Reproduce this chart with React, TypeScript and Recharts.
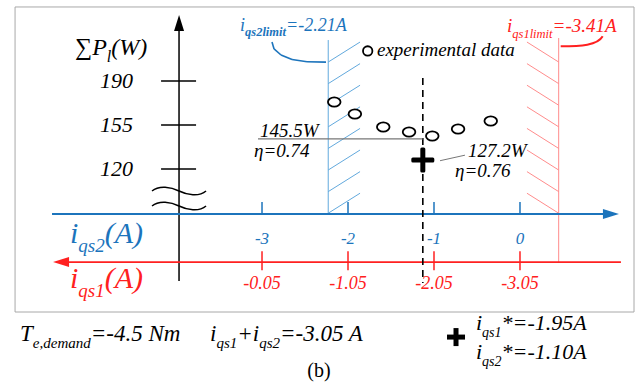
import { ComposedChart, XAxis, YAxis, Scatter, ReferenceLine, ReferenceDot, ReferenceArea } from 'recharts'

const BLUE = '#1c74bc'
const BLUE_LIGHT = '#62a9dd'
const RED = '#ff2020'
const RED_LIGHT = '#ff8c8c'
const FONT = "'Liberation Serif', 'Times New Roman', serif"

// x = iqs2 (A), y = total loss ΣPl (W)
const experimental = [
  { x: -2.16, y: 173.3 },
  { x: -1.92, y: 163.8 },
  { x: -1.59, y: 153.4 },
  { x: -1.29, y: 149.4 },
  { x: -1.02, y: 146.3 },
  { x: -0.72, y: 151.8 },
  { x: -0.34, y: 158.2 },
]
const optimum = { x: -1.13, y: 127.2 }
const powerTicks = [120, 155, 190]
const iqs2Ticks = [-3, -2, -1, 0]
const iqs1Labels = ['-0.05', '-1.05', '-2.05', '-3.05']
const iqs2Limit = -2.23
const iqs1Limit = 0.45

// view window, in axis units
const X_DOMAIN = [-6.047, 1.384]
const Y_DOMAIN = [-55.8, 254.45]

// leader curve from the iqs2 limit label to its line
const blueLeader = [
  { x: -2.884, y: 221.0 },
  { x: -2.86, y: 215.5 },
  { x: -2.779, y: 210.7 },
  { x: -2.651, y: 207.1 },
  { x: -2.477, y: 205.3 },
  { x: -2.256, y: 205.0 },
]

type Part = { t: string; sub?: boolean; bold?: boolean }

function Rich({ cx, cy, parts, size, subSize, fill = '#000', italic = true, anchor = 'start' }: any) {
  const shift = size * 0.3
  let down = false
  const spans = parts.map((p: Part, i: number) => {
    let dy = 0
    if (p.sub && !down) dy = shift
    if (!p.sub && down) dy = -shift
    down = !!p.sub
    return (
      <tspan key={i} dy={dy} fontSize={p.sub ? subSize : size} fontWeight={p.bold ? 'bold' : 'normal'}>
        {p.t}
      </tspan>
    )
  })
  return (
    <text x={cx} y={cy + size * 0.33} fill={fill} fontFamily={FONT} fontStyle={italic ? 'italic' : 'normal'} textAnchor={anchor}>
      {spans}
    </text>
  )
}

function label(key: string, x: number, y: number, parts: Part[], opts: any) {
  return (
    <ReferenceDot
      key={key}
      x={x}
      y={y}
      r={0}
      shape={(p: any) => <Rich cx={p.cx} cy={p.cy} parts={parts} {...opts} />}
    />
  )
}

function seg(key: string, x1: number, y1: number, x2: number, y2: number, stroke: string, width = 1, dash?: string) {
  return (
    <ReferenceLine
      key={key}
      segment={[{ x: x1, y: y1 }, { x: x2, y: y2 }]}
      stroke={stroke}
      strokeWidth={width}
      strokeDasharray={dash}
    />
  )
}

function polyline(key: string, pts: { x: number; y: number }[], stroke: string) {
  return pts.slice(1).map((p, i) => seg(key + i, pts[i].x, pts[i].y, p.x, p.y, stroke, 1.6))
}

const Ellipse = (p: any) => (
  <ellipse cx={p.cx} cy={p.cy} rx={6.3} ry={4.6} fill="#fff" stroke="#000" strokeWidth={1.8} />
)

export default function App() {
  const hatchStep = 17.18
  const blueHatch = [0, 1, 2, 3, 4, 5, 6, 7].map((k) =>
    seg('bh' + k, iqs2Limit, 205.1 - k * hatchStep, -1.86, 221.0 - k * hatchStep, BLUE_LIGHT)
  )
  const redHatch = [0, 1, 2, 3, 4, 5, 6, 7].map((k) =>
    seg('rh' + k, 0.081, 221.0 - k * hatchStep, iqs1Limit, 205.1 - k * hatchStep, RED_LIGHT)
  )

  return (
    <div style={{ width: 639, height: 390 }}>
      <style>{'body{margin:0}'}</style>
      <ComposedChart width={639} height={390} margin={{ top: 0, right: 0, bottom: 0, left: 0 }}>
        <XAxis type="number" dataKey="x" domain={X_DOMAIN} allowDataOverflow hide />
        <YAxis type="number" domain={Y_DOMAIN} allowDataOverflow hide />

        <ReferenceArea x1={-5.872} x2={1.326} y1={6.24} y2={248.9} fill="none" stroke="#a8a8a8" strokeWidth={1} />

        {blueHatch}
        {redHatch}
        {seg('blim', iqs2Limit, 222.6, iqs2Limit, 84.2, BLUE_LIGHT)}
        {seg('rlim', iqs1Limit, 224.2, iqs1Limit, 46.0, RED_LIGHT)}

        {/* power axis */}
        {seg('yax', -3.965, 230.6, -3.965, 30.9, '#000', 1.5)}
        <ReferenceDot
          x={-3.965}
          y={242.5}
          r={0}
          shape={(p: any) => <polygon points={`${p.cx},${p.cy} ${p.cx - 5},${p.cy + 16} ${p.cx + 5},${p.cy + 16}`} fill="#000" />}
        />
        {powerTicks.map((v) => seg('yt' + v, -4.174, v, -3.767, v, '#000', 1.5))}
        {powerTicks.map((v) => label('yl' + v, -4.5, v, [{ t: String(v) }], { size: 22, anchor: 'end' }))}
        {label('ytitle', -5.174, 217.1, [{ t: '∑P' }, { t: 'l', sub: true }, { t: '(W)' }], { size: 24, subSize: 16 })}
        {[102.5, 90.6].map((v) => (
          <ReferenceDot
            key={'brk' + v}
            x={-3.965}
            y={v}
            r={0}
            shape={(p: any) => (
              <path
                transform={`translate(${p.cx},${p.cy})`}
                d="M-27,0 C-20,-6 -8,-4 0,0 S20,6 27,0"
                fill="none"
                stroke="#000"
                strokeWidth={1.5}
              />
            )}
          />
        ))}

        {/* iqs2 axis */}
        {seg('bax', -5.442, 84.2, 0.977, 84.2, BLUE, 1.8)}
        <ReferenceDot
          x={1.151}
          y={84.2}
          r={0}
          shape={(p: any) => <polygon points={`${p.cx},${p.cy} ${p.cx - 16},${p.cy - 5} ${p.cx - 16},${p.cy + 5}`} fill={BLUE} />}
        />
        {iqs2Ticks.map((v) => seg('bt' + v, v, 84.2, v, 93.7, BLUE, 1.5))}
        {iqs2Ticks.map((v) => label('bl' + v, v, 65.1, [{ t: String(v) }], { size: 17, fill: BLUE, anchor: 'middle' }))}
        {label('btitle', -5.233, 69.1, [{ t: 'i' }, { t: 'qs2', sub: true }, { t: '(A)' }], { size: 30, subSize: 19, fill: BLUE })}

        {/* iqs1 axis */}
        {seg('rax', -5.267, 46.0, 1.174, 46.0, RED, 1.8)}
        <ReferenceDot
          x={-5.43}
          y={46.0}
          r={0}
          shape={(p: any) => <polygon points={`${p.cx},${p.cy} ${p.cx + 16},${p.cy - 5} ${p.cx + 16},${p.cy + 5}`} fill={RED} />}
        />
        {iqs2Ticks.map((v) => seg('rt' + v, v, 54.5, v, 39.4, RED, 1.5))}
        {iqs2Ticks.map((v, i) => label('rl' + v, v, 29.1, [{ t: iqs1Labels[i] }], { size: 18, fill: RED, anchor: 'middle' }))}
        {label('rtitle', -5.233, 33.3, [{ t: 'i' }, { t: 'qs1', sub: true }, { t: '(A)' }], { size: 30, subSize: 19, fill: RED })}

        {/* optimum marker */}
        {seg('dash', optimum.x, 192.4, optimum.x, 29.3, '#000', 1.6, '7 5')}
        {seg('g145', -3.047, 143.9, optimum.x, 143.9, '#777', 1.3)}
        {seg('g127', -0.93, 126.6, -0.64, 131.0, '#777', 1)}

        <Scatter data={experimental} dataKey="y" shape={Ellipse} isAnimationActive={false} />

        <ReferenceDot
          x={optimum.x}
          y={optimum.y}
          r={0}
          shape={(p: any) => (
            <g fill="#000">
              <rect x={p.cx - 11.5} y={p.cy - 2.5} width={23} height={5} rx={1.5} />
              <rect x={p.cx - 2.5} y={p.cy - 12.5} width={5} height={25} rx={1.5} />
            </g>
          )}
        />

        {/* legend */}
        <ReferenceDot x={-1.771} y={213.9} r={4.7} fill="#fff" stroke="#000" strokeWidth={1.8} />
        {label('leg', -1.663, 214.7, [{ t: 'experimental data' }], { size: 19 })}

        {polyline('bLead', blueLeader, BLUE)}
        {label('blimT', -3.256, 234.6, [{ t: 'i' }, { t: 'qs2limit', sub: true, bold: true }, { t: '=-2.21A' }], { size: 18, subSize: 12.5, fill: BLUE })}
        {label('rlimT', -0.151, 233.8, [{ t: 'i' }, { t: 'qs1limit', sub: true }, { t: '=-3.41A' }], { size: 19, subSize: 12.5, fill: RED })}

        {label('p145', -3.023, 150.2, [{ t: '145.5W' }], { size: 19 })}
        {label('e74', -3.093, 134.3, [{ t: 'η=0.74' }], { size: 19 })}
        {label('p127', -0.605, 134.3, [{ t: '127.2W' }], { size: 19 })}
        {label('e76', -0.756, 118.4, [{ t: 'η=0.76' }], { size: 19 })}

        {/* caption row */}
        {label('te', -5.814, -10.5, [{ t: 'T' }, { t: 'e,demand', sub: true }, { t: '=-4.5 Nm' }], { size: 23, subSize: 15 })}
        {label('sum', -3.605, -10.5, [{ t: 'i' }, { t: 'qs1', sub: true }, { t: '+i' }, { t: 'qs2', sub: true }, { t: '=-3.05 A' }], { size: 23, subSize: 15 })}
        <ReferenceDot
          x={-0.744}
          y={-13.7}
          r={0}
          shape={(p: any) => (
            <g fill="#000">
              <rect x={p.cx - 9} y={p.cy - 2.5} width={18} height={5} />
              <rect x={p.cx - 2.5} y={p.cy - 9} width={5} height={18} />
            </g>
          )}
        />
        {label('s1', -0.512, -2.5, [{ t: 'i' }, { t: 'qs1', sub: true }, { t: '*=-1.95A' }], { size: 22, subSize: 14 })}
        {label('s2', -0.512, -25.6, [{ t: 'i' }, { t: 'qs2', sub: true }, { t: '*=-1.10A' }], { size: 22, subSize: 14 })}
        {label('cap', -2.337, -39.9, [{ t: '(b)' }], { size: 20, italic: false, anchor: 'middle' })}

        {/* leader from the iqs1 limit label, drawn last */}
        <ReferenceDot
          x={iqs1Limit}
          y={217.6}
          r={0}
          shape={(p: any) => (
            <path
              transform={`translate(${p.cx},${p.cy})`}
              d="M2,0 C22,0 39,-1 44,-10"
              fill="none"
              stroke={RED}
              strokeWidth={2}
            />
          )}
        />
      </ComposedChart>
    </div>
  )
}
